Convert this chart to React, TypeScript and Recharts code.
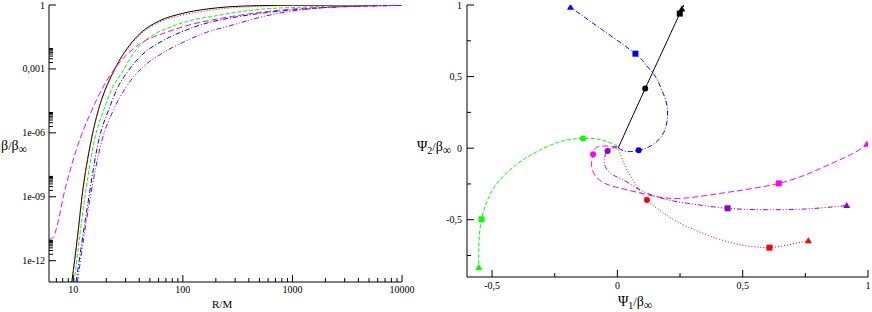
import React from 'react';
import { LineChart, ComposedChart, Line, XAxis, YAxis } from 'recharts';

// ---------------- LEFT PANEL: beta/beta_inf vs R/M (log-log) ----------------
const rBlack = [9.7, 11, 12, 14.5, 17, 20, 22.9, 26, 30.4, 40.3, 61.4, 100, 165, 270, 500, 1000, 3000, 10000];
const betaBlack = [1e-13, 1.8e-11, 1e-9, 4e-7, 1.26e-5, 1.41e-4, 6.3e-4, 2.24e-3, 7.9e-3, 0.0437, 0.182, 0.407, 0.646, 0.832, 0.933, 0.977, 0.993, 0.998];

const rRed = [9.7, 11, 12, 14.5, 17, 20, 22.9, 26, 30.4, 40.3, 61.4, 100, 165, 270, 500, 1000, 3000, 10000];
const betaRed = [1e-13, 1.8e-11, 1e-9, 4e-7, 1.26e-5, 1.38e-4, 6e-4, 2.1e-3, 7.1e-3, 0.038, 0.158, 0.339, 0.537, 0.724, 0.871, 0.944, 0.982, 0.995];

const rGreen = [10.2, 12.77, 15.6, 19.06, 22.93, 27.4, 35, 49.8, 76, 124, 204, 270, 541, 1000, 2000, 5060, 10000];
const betaGreen = [1e-13, 1e-9, 4.7e-7, 1.26e-5, 1.45e-4, 5.9e-4, 5e-3, 0.031, 0.089, 0.2, 0.316, 0.407, 0.646, 0.764, 0.869, 0.948, 0.977];

const rBlue = [10.6, 13.5, 17.1, 21.1, 25.6, 31.2, 43.2, 66, 108, 176, 270, 541, 1000, 2000, 5060, 10000];
const betaBlue = [1e-13, 4e-10, 4.7e-7, 1.26e-5, 1.45e-4, 7.2e-4, 5e-3, 0.0214, 0.0676, 0.155, 0.245, 0.422, 0.583, 0.759, 0.898, 0.955];

const rMagenta = [6, 6.6, 7, 7.4, 8.1, 9.2, 10.65, 12.5, 14, 19.2, 25.5, 40.3, 70.9, 124, 204, 270, 541, 1000, 2000, 5060, 10000];
const betaMagenta = [1e-11, 1.26e-11, 3.2e-11, 1e-10, 1e-9, 1.26e-8, 1.6e-7, 1.6e-6, 6.3e-6, 1.8e-4, 1.6e-3, 0.0148, 0.0525, 0.129, 0.219, 0.282, 0.468, 0.646, 0.794, 0.912, 0.966];

const rViolet = [10.9, 14, 18.3, 23.3, 30, 43.2, 61.4, 100.6, 165, 270, 541, 1000, 2000, 5060, 10000];
const betaViolet = [1e-13, 5.2e-10, 4.7e-7, 1.2e-5, 1.29e-4, 1.23e-3, 4.6e-3, 0.0178, 0.0525, 0.107, 0.288, 0.525, 0.759, 0.898, 0.955];

const rMajorTicks = [10, 100, 1000, 10000];
const rMajorLabels = ['10', '100', '1000', '10000'];
const betaMajorTicks = [1e-12, 1e-9, 1e-6, 1e-3, 1];
const betaMajorLabels = ['1e-12', '1e-09', '1e-06', '0,001', '1'];
const minorMultipliers = [2, 3, 4, 5, 6, 7, 8, 9];

// ---------------- RIGHT PANEL: Psi2 vs Psi1 ----------------
const psi1Black = [0.003, 0.111, 0.249, 0.257];
const psi2Black = [0.0, 0.416, 0.94, 0.972];
const markBlack = ['', 'circle', 'square', 'triangle'];

const psi1Red = [0.005, 0.02, 0.039, 0.075, 0.118, 0.19, 0.278, 0.437, 0.543, 0.607, 0.685, 0.762];
const psi2Red = [-0.01, -0.08, -0.153, -0.26, -0.362, -0.46, -0.548, -0.653, -0.688, -0.695, -0.674, -0.646];
const markRed = ['', '', '', '', 'circle', '', '', '', '', 'square', '', 'triangle'];

const psi1Green = [0.0, -0.068, -0.137, -0.22, -0.307, -0.38, -0.44, -0.49, -0.522, -0.542, -0.551, -0.553, -0.553];
const psi2Green = [0.015, 0.06, 0.068, 0.05, -0.012, -0.085, -0.17, -0.27, -0.38, -0.497, -0.62, -0.73, -0.834];
const markGreen = ['', '', 'circle', '', '', '', '', '', '', 'square', '', '', 'triangle'];

const psi1Blue = [0.005, 0.039, 0.085, 0.125, 0.16, 0.185, 0.198, 0.2, 0.192, 0.174, 0.148, 0.11, 0.072, -0.055, -0.187];
const psi2Blue = [0.0, -0.024, -0.014, 0.008, 0.05, 0.11, 0.185, 0.265, 0.34, 0.42, 0.51, 0.59, 0.66, 0.82, 0.985];
const markBlue = ['', '', 'circle', '', '', '', '', '', '', '', '', '', 'square', '', 'triangle'];

const psi1Magenta = [0.0, -0.045, -0.083, -0.097, -0.103, -0.085, -0.045, 0.012, 0.12, 0.24, 0.41, 0.644, 0.81, 0.94, 0.995];
const psi2Magenta = [0.01, 0.015, 0.005, -0.042, -0.12, -0.2, -0.25, -0.28, -0.325, -0.352, -0.316, -0.246, -0.142, -0.037, 0.028];
const markMagenta = ['', '', '', 'circle', '', '', '', '', '', '', '', 'square', '', '', 'triangle'];

const psi1Violet = [0.0, -0.02, -0.039, -0.052, -0.045, -0.015, 0.012, 0.06, 0.12, 0.2, 0.28, 0.44, 0.6, 0.75, 0.915];
const psi2Violet = [0.0, 0.003, -0.019, -0.07, -0.14, -0.19, -0.211, -0.26, -0.316, -0.36, -0.385, -0.42, -0.43, -0.425, -0.401];
const markViolet = ['', '', 'circle', '', '', '', '', '', '', '', '', 'square', '', '', 'triangle'];

const psiMajorTicks = [-0.5, 0, 0.5, 1];
const psiMajorLabels = ['-0,5', '0', '0,5', '1'];
const psi1MinorTicks = [-0.25, 0.25, 0.75];
const psi2MinorTicks = [-0.75, -0.25, 0.25, 0.75];

// ---------------- helpers ----------------
const COLORS = {
  black: '#000000',
  red: '#ff0000',
  green: '#00ff00',
  blue: '#0000ff',
  magenta: '#ff00ff',
  violet: '#9400d3',
};

const zipLog = (r: number[], b: number[]) => r.map((v, i) => ({ r: v, b: b[i] }));
const zipPsi = (x: number[], y: number[], m: string[]) => x.map((v, i) => ({ x: v, y: y[i], m: m[i] }));

const rMinorTicks = [1, 10, 100, 1000].flatMap((d) => minorMultipliers.map((k) => k * d)).filter((v) => v > 6 && v < 10000);
const betaMinorTicks = betaMajorTicks.slice(0, -1).flatMap((d) => minorMultipliers.map((k) => k * d));
const rAllTicks = [...rMinorTicks, ...rMajorTicks].sort((a, b) => a - b);
const betaAllTicks = [...betaMinorTicks, ...betaMajorTicks].sort((a, b) => a - b);
const psi1AllTicks = [...psi1MinorTicks, ...psiMajorTicks].sort((a, b) => a - b);
const psi2AllTicks = [...psi2MinorTicks, ...psiMajorTicks].sort((a, b) => a - b);

const FONT = 'Liberation Serif, Times New Roman, serif';
const TICK_FONT_SIZE = 10;

type Side = 'bottom' | 'top' | 'left' | 'right';
function makeTick(side: Side, majors: number[], labels: string[] | null, majorLen: number, minorLen: number, gap: number) {
  return (p: any) => {
    const { x, y, payload, index } = p;
    const v = payload.value as number;
    const i = majors.findIndex((m) => m === v || Math.abs(m - v) <= Math.abs(m) * 1e-9);
    const len = i >= 0 ? majorLen : minorLen;
    let line: React.ReactNode = null;
    let text: React.ReactNode = null;
    const lbl = i >= 0 && labels ? labels[i] : null;
    if (side === 'bottom') {
      line = <line x1={x} y1={y} x2={x} y2={y - len} stroke="#000" strokeWidth={1} />;
      if (lbl) text = <text x={x} y={y + gap} textAnchor="middle" fontFamily={FONT} fontSize={TICK_FONT_SIZE} fill="#000">{lbl}</text>;
    } else if (side === 'top') {
      line = <line x1={x} y1={y} x2={x} y2={y + len} stroke="#000" strokeWidth={1} />;
    } else if (side === 'left') {
      line = <line x1={x} y1={y} x2={x + len} y2={y} stroke="#000" strokeWidth={1} />;
      if (lbl) text = <text x={x - gap} y={y + 3.5} textAnchor="end" fontFamily={FONT} fontSize={TICK_FONT_SIZE} fill="#000">{lbl}</text>;
    } else {
      line = <line x1={x} y1={y} x2={x - len} y2={y} stroke="#000" strokeWidth={1} />;
    }
    return (
      <g key={`t-${side}-${index}`}>
        {line}
        {text}
      </g>
    );
  };
}

const makeMarker = (color: string) => (p: any) => {
  const { cx, cy, payload, index } = p;
  const m = payload && payload.m;
  if (!m || cx == null || cy == null) return <g key={`d-${index}`} />;
  if (m === 'circle') return <circle key={`d-${index}`} cx={cx} cy={cy} r={3} fill={color} stroke="none" />;
  if (m === 'square') return <rect key={`d-${index}`} x={cx - 3} y={cy - 3} width={6} height={6} fill={color} stroke="none" />;
  return (
    <polygon key={`d-${index}`} points={`${cx},${cy - 3.5} ${cx + 3.5},${cy + 2.5} ${cx - 3.5},${cy + 2.5}`} fill={color} stroke="none" />
  );
};

const axisLine = { stroke: '#000', strokeWidth: 1 };

const leftSeries = [
  { key: 'black', data: zipLog(rBlack, betaBlack), color: COLORS.black, dash: undefined as string | undefined },
  { key: 'red', data: zipLog(rRed, betaRed), color: COLORS.red, dash: '1 2' },
  { key: 'green', data: zipLog(rGreen, betaGreen), color: COLORS.green, dash: '4 2' },
  { key: 'blue', data: zipLog(rBlue, betaBlue), color: COLORS.blue, dash: '5 2 1 2' },
  { key: 'magenta', data: zipLog(rMagenta, betaMagenta), color: COLORS.magenta, dash: '6 3' },
  { key: 'violet', data: zipLog(rViolet, betaViolet), color: COLORS.violet, dash: '5 2 1 2 1 2' },
];

const rightSeries = [
  { key: 'black', data: zipPsi(psi1Black, psi2Black, markBlack), color: COLORS.black, dash: undefined as string | undefined },
  { key: 'red', data: zipPsi(psi1Red, psi2Red, markRed), color: COLORS.red, dash: '1 2' },
  { key: 'green', data: zipPsi(psi1Green, psi2Green, markGreen), color: COLORS.green, dash: '4 2' },
  { key: 'blue', data: zipPsi(psi1Blue, psi2Blue, markBlue), color: COLORS.blue, dash: '5 2 1 2' },
  { key: 'magenta', data: zipPsi(psi1Magenta, psi2Magenta, markMagenta), color: COLORS.magenta, dash: '6 3' },
  { key: 'violet', data: zipPsi(psi1Violet, psi2Violet, markViolet), color: COLORS.violet, dash: '5 2 1 2 1 2' },
];

const titleStyle: React.CSSProperties = {
  position: 'absolute',
  fontFamily: FONT,
  fontSize: 14,
  lineHeight: '16px',
  whiteSpace: 'nowrap',
  color: '#000',
};
const subStyle: React.CSSProperties = { fontSize: 10, position: 'relative', top: 3 };
const infStyle: React.CSSProperties = { fontSize: 12, position: 'relative', top: 3 };
const slashStyle: React.CSSProperties = { fontSize: 12 };

export default function App() {
  return (
    <div style={{ position: 'absolute', left: 0, top: 0, width: 872, height: 312, background: '#fff', overflow: 'hidden' }}>
      <div style={{ position: 'absolute', left: 0, top: 0 }}>
        <LineChart width={430} height={312} margin={{ top: 5, right: 28, bottom: 0, left: 0 }}>
          <XAxis
            xAxisId="b"
            type="number"
            dataKey="r"
            scale="log"
            domain={[6, 10000]}
            allowDataOverflow
            ticks={rAllTicks}
            interval={0}
            tickSize={0}
            tickMargin={0}
            tickLine={false}
            axisLine={axisLine}
            height={30}
            tick={makeTick('bottom', rMajorTicks, rMajorLabels, 7, 4, 11)}
          />
          <XAxis
            xAxisId="t"
            orientation="top"
            type="number"
            dataKey="r"
            scale="log"
            domain={[6, 10000]}
            allowDataOverflow
            ticks={rAllTicks}
            interval={0}
            tickSize={0}
            tickMargin={0}
            tickLine={false}
            axisLine={axisLine}
            height={0}
            tick={makeTick('top', rMajorTicks, null, 7, 4, 0)}
          />
          <YAxis
            yAxisId="l"
            type="number"
            dataKey="b"
            scale="log"
            domain={[1e-13, 1]}
            allowDataOverflow
            ticks={betaAllTicks}
            interval={0}
            tickSize={0}
            tickMargin={0}
            tickLine={false}
            axisLine={axisLine}
            width={49}
            tick={makeTick('left', betaMajorTicks, betaMajorLabels, 7, 4, 4)}
          />
          <YAxis
            yAxisId="r"
            orientation="right"
            type="number"
            dataKey="b"
            scale="log"
            domain={[1e-13, 1]}
            allowDataOverflow
            ticks={betaAllTicks}
            interval={0}
            tickSize={0}
            tickMargin={0}
            tickLine={false}
            axisLine={axisLine}
            width={0}
            tick={makeTick('right', betaMajorTicks, null, 7, 4, 0)}
          />
          {leftSeries.map((s) => (
            <Line
              key={s.key}
              xAxisId="b"
              yAxisId="l"
              data={s.data}
              dataKey="b"
              type="monotone"
              stroke={s.color}
              strokeWidth={1}
              strokeDasharray={s.dash}
              dot={false}
              activeDot={false}
              isAnimationActive={false}
            />
          ))}
        </LineChart>
      </div>

      <div style={{ position: 'absolute', left: 410, top: 0 }}>
        <ComposedChart width={462} height={312} margin={{ top: 5, right: 4, bottom: 0, left: 0 }}>
          <XAxis
            xAxisId="b"
            type="number"
            dataKey="x"
            domain={[-0.6, 1]}
            allowDataOverflow
            ticks={psi1AllTicks}
            interval={0}
            tickSize={0}
            tickMargin={0}
            tickLine={false}
            axisLine={axisLine}
            height={35}
            tick={makeTick('bottom', psiMajorTicks, psiMajorLabels, 7, 4, 12)}
          />
          <XAxis
            xAxisId="t"
            orientation="top"
            type="number"
            dataKey="x"
            domain={[-0.6, 1]}
            allowDataOverflow
            ticks={psi1AllTicks}
            interval={0}
            tickSize={0}
            tickMargin={0}
            tickLine={false}
            axisLine={axisLine}
            height={0}
            tick={makeTick('top', psiMajorTicks, null, 7, 4, 0)}
          />
          <YAxis
            yAxisId="l"
            type="number"
            dataKey="y"
            domain={[-0.9, 1]}
            allowDataOverflow
            ticks={psi2AllTicks}
            interval={0}
            tickSize={0}
            tickMargin={0}
            tickLine={false}
            axisLine={axisLine}
            width={57}
            tick={makeTick('left', psiMajorTicks, psiMajorLabels, 7, 4, 5)}
          />
          <YAxis
            yAxisId="r"
            orientation="right"
            type="number"
            dataKey="y"
            domain={[-0.9, 1]}
            allowDataOverflow
            ticks={psi2AllTicks}
            interval={0}
            tickSize={0}
            tickMargin={0}
            tickLine={false}
            axisLine={axisLine}
            width={0}
            tick={makeTick('right', psiMajorTicks, null, 7, 4, 0)}
          />
          {rightSeries.map((s) => (
            <Line
              key={s.key}
              xAxisId="b"
              yAxisId="l"
              data={s.data}
              dataKey="y"
              type="natural"
              stroke={s.color}
              strokeWidth={1}
              strokeDasharray={s.dash}
              dot={makeMarker(s.color)}
              activeDot={false}
              isAnimationActive={false}
            />
          ))}
        </ComposedChart>
      </div>

      <div style={{ ...titleStyle, left: 1, top: 138 }}>
        β<span style={slashStyle}>/</span>β<span style={infStyle}>∞</span>
      </div>
      <div style={{ ...titleStyle, fontSize: 11, left: 212, top: 296 }}>R/M</div>
      <div style={{ ...titleStyle, left: 417, top: 139 }}>
        Ψ<span style={subStyle}>2</span>
        <span style={slashStyle}>/</span>β<span style={infStyle}>∞</span>
      </div>
      <div style={{ ...titleStyle, left: 618, top: 294 }}>
        Ψ<span style={subStyle}>1</span>
        <span style={slashStyle}>/</span>β<span style={infStyle}>∞</span>
      </div>
    </div>
  );
}
